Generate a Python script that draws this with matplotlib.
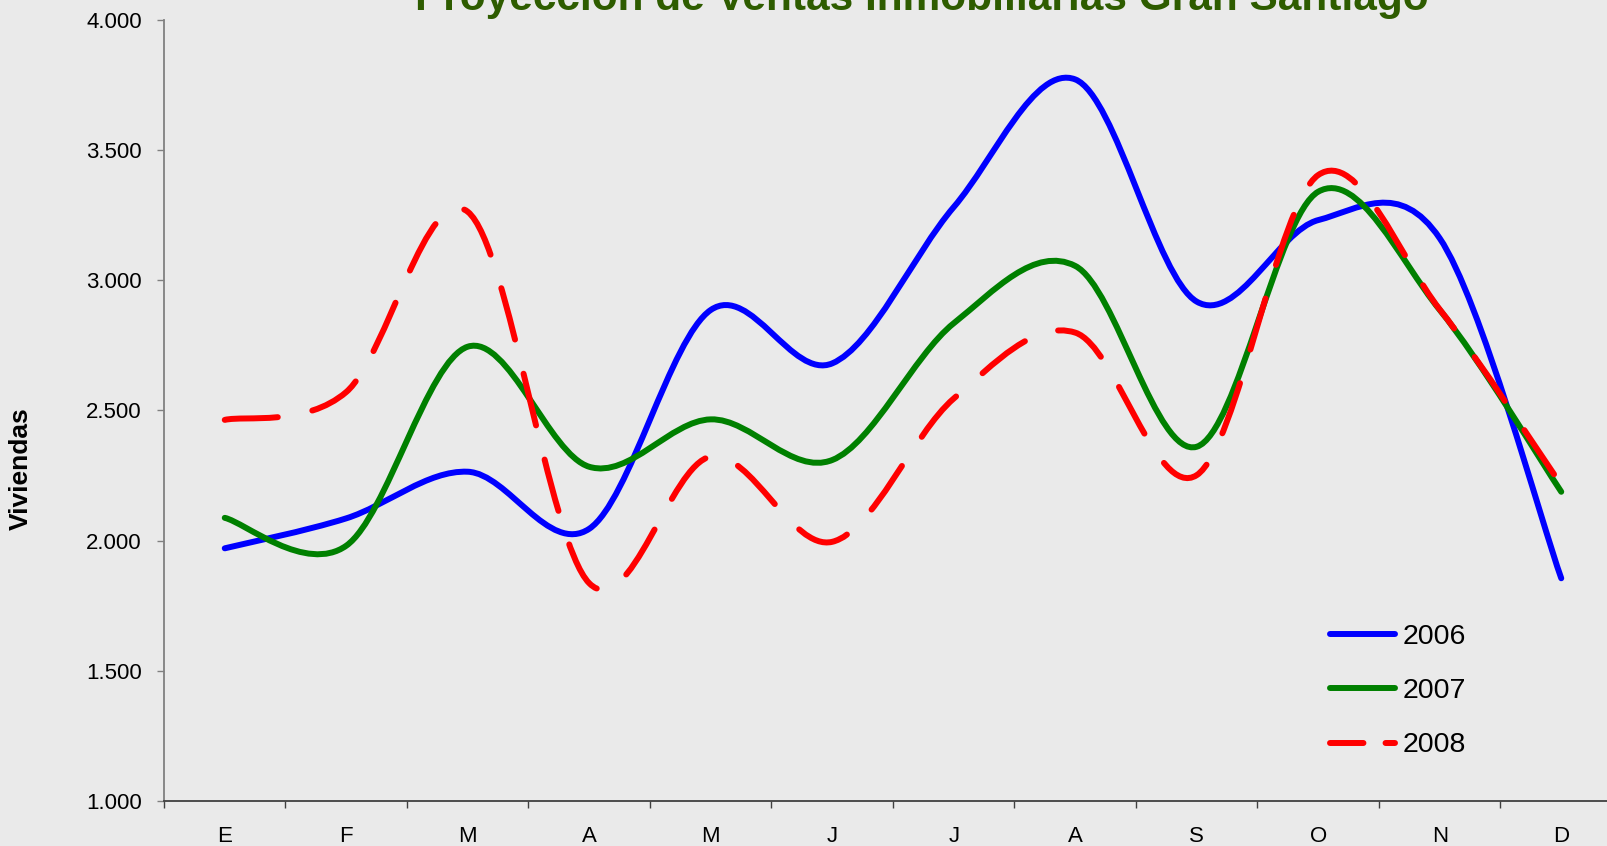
import numpy as np
import matplotlib.pyplot as plt
from matplotlib.path import Path
from matplotlib.patches import PathPatch
from matplotlib.lines import Line2D

plt.rcParams['font.family'] = ['Liberation Sans', 'DejaVu Sans']

# datos (viviendas vendidas por mes)
meses = ['E', 'F', 'M', 'A', 'M', 'J', 'J', 'A', 'S', 'O', 'N', 'D']
ventas_2006 = [1970, 2085, 2264, 2045, 2885, 2680, 3280, 3770, 2917, 3230, 3160, 1855]
ventas_2007 = [2087, 1980, 2744, 2283, 2465, 2309, 2834, 3054, 2360, 3339, 2885, 2187]
ventas_2008 = [2463, 2570, 3262, 1836, 2322, 1995, 2545, 2798, 2251, 3403, 2887, 2213]
anios = ['2006', '2007', '2008']
colores = ['#0000FF', '#008000', '#FF0000']

fondo = '#EAEAEA'
grosor = 4.3


def curva_suave(xs, ys):
    # linea suavizada tipo Excel: bezier cubica por cada punto
    pts = np.column_stack([xs, ys]).astype(float)
    n = len(pts)
    verts = [pts[0]]
    for i in range(n - 1):
        p0 = pts[max(i - 1, 0)]
        p1 = pts[i]
        p2 = pts[i + 1]
        p3 = pts[min(i + 2, n - 1)]
        verts += [p1 + (p2 - p0) / 6, p2 - (p3 - p1) / 6, p2]
    codes = [Path.MOVETO] + [Path.CURVE4] * (3 * (n - 1))
    return Path(verts, codes)


fig = plt.figure(figsize=(16.08, 8.46), dpi=100, facecolor=fondo)
ax = fig.add_axes([164 / 1608, 1 - 801 / 846, 1458 / 1608, 781.5 / 846])
ax.set_facecolor(fondo)

x = np.arange(len(meses)) + 0.5
estilos = ['-', '-', (0, (8.9, 5.9))]
for serie, color, estilo in zip([ventas_2006, ventas_2007, ventas_2008], colores, estilos):
    ax.add_patch(PathPatch(curva_suave(x, serie), facecolor='none', edgecolor=color,
                           lw=grosor, linestyle=estilo, capstyle='round', joinstyle='round'))

ax.set_xlim(0, 12)
ax.set_ylim(1000, 4000)

ax.set_xticks(np.arange(13))
ax.set_xticklabels([])
ax.set_xticks(x, minor=True)
ax.set_xticklabels(meses, minor=True)
ax.tick_params(axis='x', which='major', length=5, width=1, color='#404040')
ax.tick_params(axis='x', which='minor', length=0, pad=18, labelsize=16)

ax.set_yticks(np.arange(1000, 4001, 500))
ax.set_yticklabels([f'{v:,}'.replace(',', '.') for v in range(1000, 4001, 500)])
ax.tick_params(axis='y', length=5, width=1, color='#808080', pad=11, labelsize=16)

for s in ['top', 'right']:
    ax.spines[s].set_visible(False)
ax.spines['left'].set_color('#808080')
ax.spines['left'].set_linewidth(1.3)
ax.spines['bottom'].set_color('#404040')
ax.spines['bottom'].set_linewidth(1.3)

fig.text(922 / 1608, 1 - 10 / 846, 'Proyección de Ventas Inmobiliarias Gran Santiago',
         ha='center', va='baseline', fontsize=30.5, fontweight='bold', color='#2E5C00')
fig.text(20.5 / 1608, 1 - 469 / 846, 'Viviendas', rotation=90, ha='center', va='center',
         fontsize=19, fontweight='bold')

handles = [Line2D([], [], color=colores[0], lw=grosor, solid_capstyle='round'),
           Line2D([], [], color=colores[1], lw=grosor, solid_capstyle='round'),
           Line2D([], [], color=colores[2], lw=grosor, linestyle=(0, (5.6, 3.7)), dash_capstyle='round')]
fig.legend(handles, anios, loc='center left', bbox_to_anchor=(1330 / 1608, 1 - 691 / 846),
           frameon=False, fontsize=20.5, handlelength=2.3, handletextpad=0.25,
           labelspacing=1.0, borderpad=0, borderaxespad=0)

fig.savefig('out.png', dpi=100, facecolor=fondo)
